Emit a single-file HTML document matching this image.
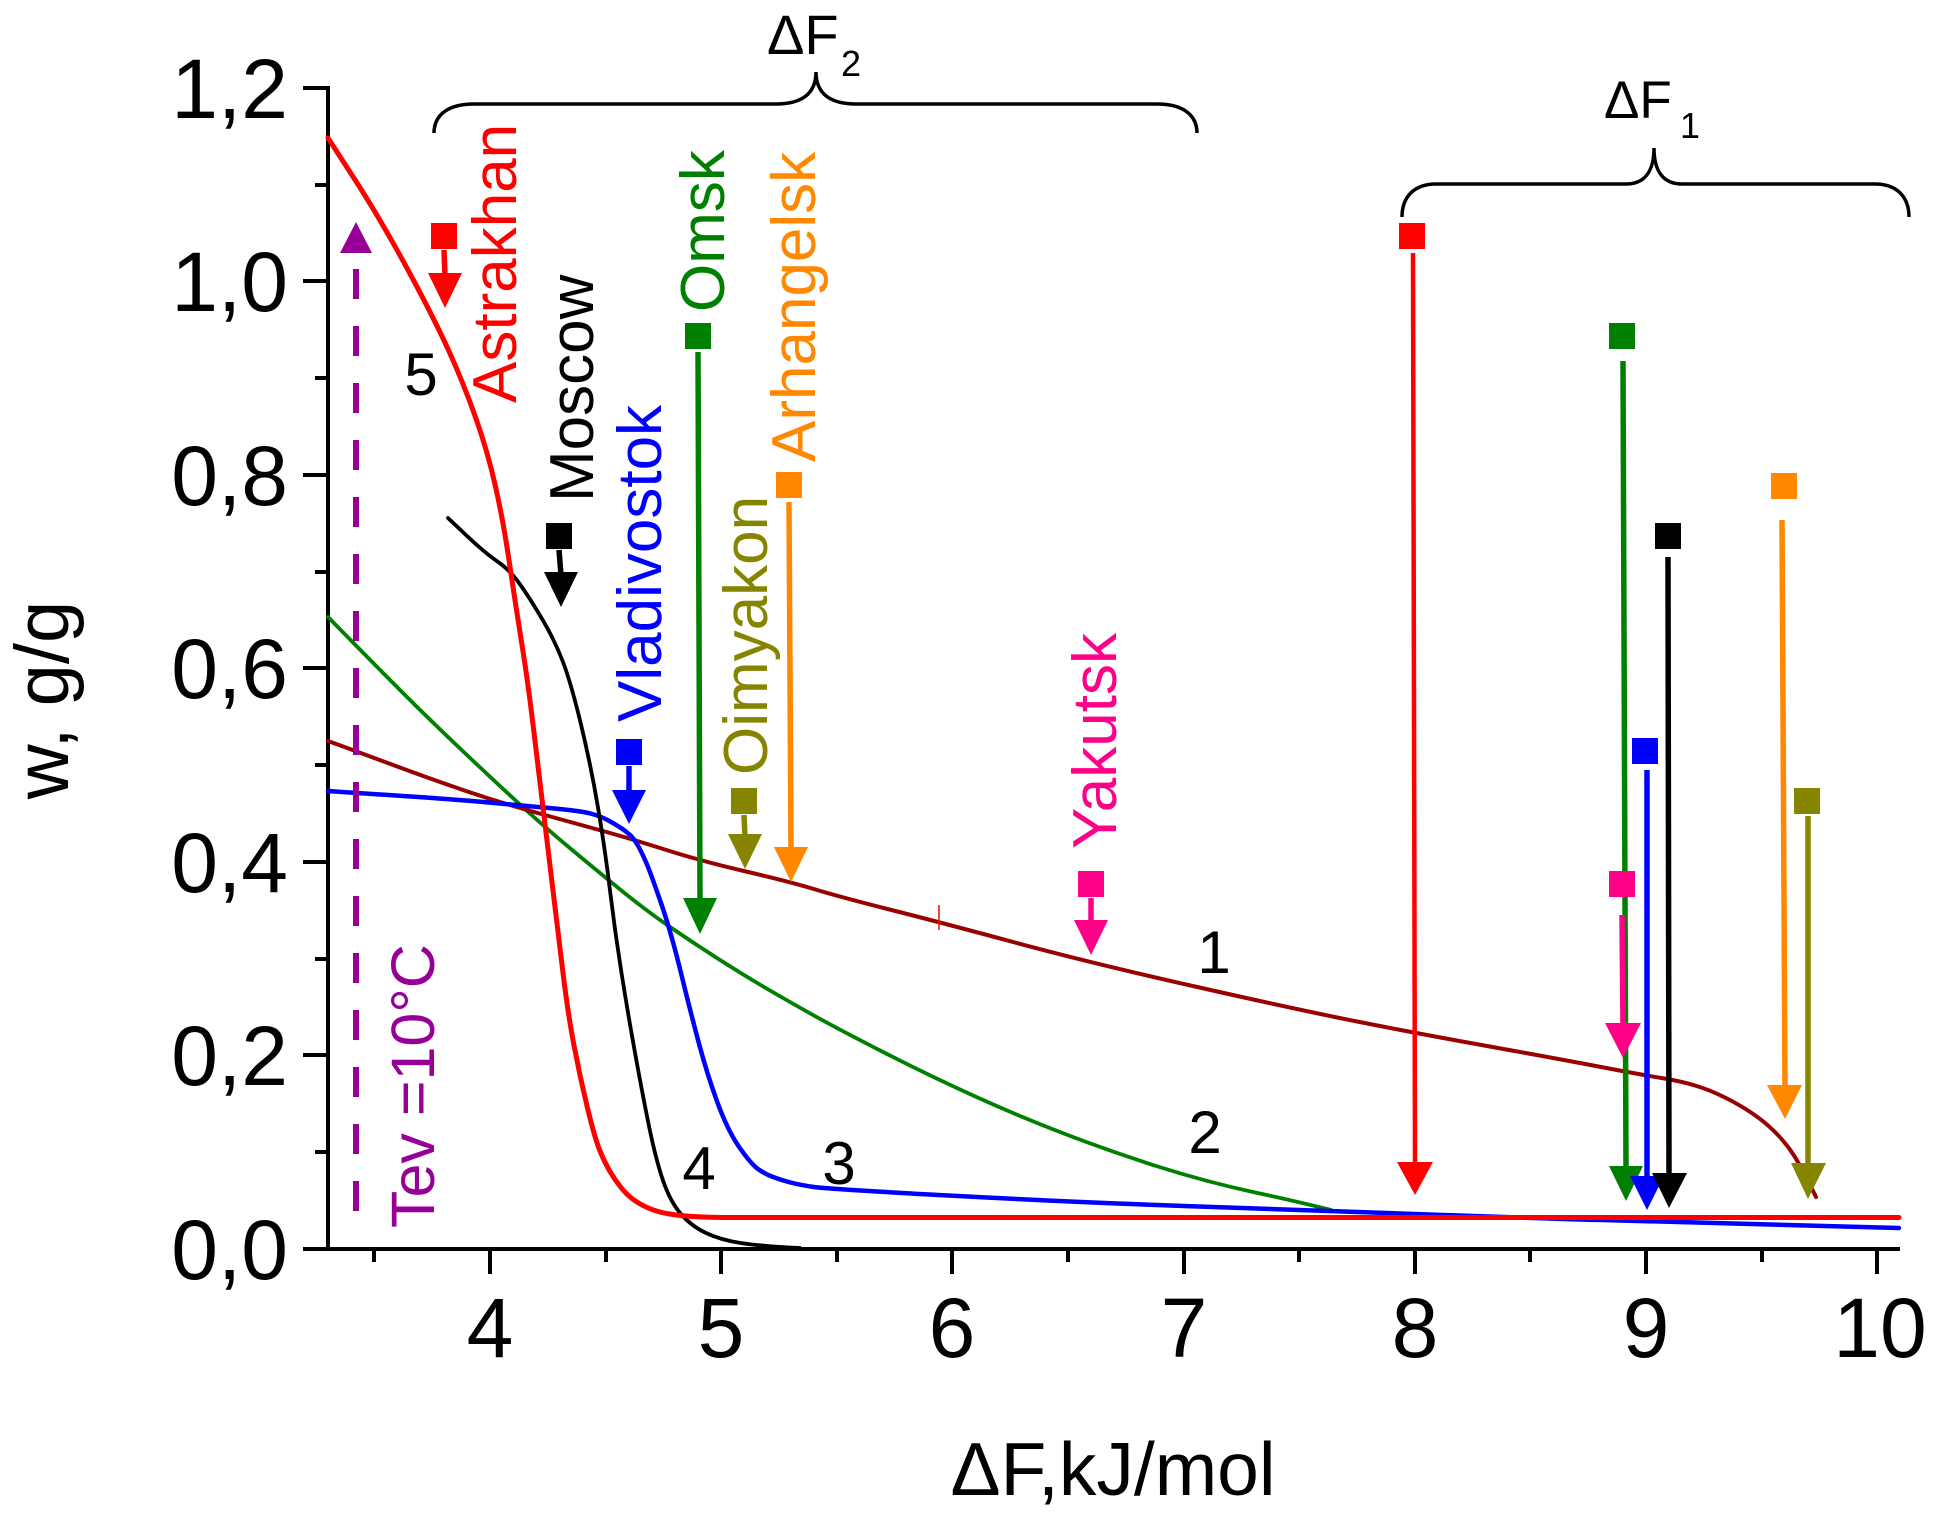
<!DOCTYPE html>
<html>
<head>
<meta charset="utf-8">
<style>
html,body{margin:0;padding:0;background:#fff;}
svg{display:block;}
text{font-family:"Liberation Sans",Arial,sans-serif;}
</style>
</head>
<body>
<svg width="1934" height="1517" viewBox="0 0 1934 1517" xmlns="http://www.w3.org/2000/svg">
<rect width="1934" height="1517" fill="#fff"/>

<!-- axes -->
<g stroke="#000" stroke-width="4" fill="none">
  <line x1="328" y1="86" x2="328" y2="1251"/>
  <line x1="303" y1="1249" x2="1900" y2="1249"/>
  <line x1="303" y1="88" x2="328" y2="88"/>
  <line x1="303" y1="281" x2="328" y2="281"/>
  <line x1="303" y1="475" x2="328" y2="475"/>
  <line x1="303" y1="668" x2="328" y2="668"/>
  <line x1="303" y1="862" x2="328" y2="862"/>
  <line x1="303" y1="1055" x2="328" y2="1055"/>
  <line x1="315" y1="185" x2="328" y2="185"/>
  <line x1="315" y1="378" x2="328" y2="378"/>
  <line x1="315" y1="572" x2="328" y2="572"/>
  <line x1="315" y1="765" x2="328" y2="765"/>
  <line x1="315" y1="959" x2="328" y2="959"/>
  <line x1="315" y1="1152" x2="328" y2="1152"/>
  <line x1="490" y1="1249" x2="490" y2="1274"/>
  <line x1="721" y1="1249" x2="721" y2="1274"/>
  <line x1="952" y1="1249" x2="952" y2="1274"/>
  <line x1="1184" y1="1249" x2="1184" y2="1274"/>
  <line x1="1415" y1="1249" x2="1415" y2="1274"/>
  <line x1="1646" y1="1249" x2="1646" y2="1274"/>
  <line x1="1877" y1="1249" x2="1877" y2="1274"/>
  <line x1="374" y1="1249" x2="374" y2="1262"/>
  <line x1="606" y1="1249" x2="606" y2="1262"/>
  <line x1="837" y1="1249" x2="837" y2="1262"/>
  <line x1="1068" y1="1249" x2="1068" y2="1262"/>
  <line x1="1299" y1="1249" x2="1299" y2="1262"/>
  <line x1="1530" y1="1249" x2="1530" y2="1262"/>
  <line x1="1762" y1="1249" x2="1762" y2="1262"/>
</g>

<!-- tick labels -->
<g font-size="84" fill="#000" text-anchor="end">
  <text x="288" y="118">1,2</text>
  <text x="288" y="311">1,0</text>
  <text x="288" y="505">0,8</text>
  <text x="288" y="698">0,6</text>
  <text x="288" y="892">0,4</text>
  <text x="288" y="1085">0,2</text>
  <text x="288" y="1279">0,0</text>
</g>
<g font-size="84" fill="#000" text-anchor="middle">
  <text x="490" y="1357">4</text>
  <text x="721" y="1357">5</text>
  <text x="952" y="1357">6</text>
  <text x="1184" y="1357">7</text>
  <text x="1415" y="1357">8</text>
  <text x="1646" y="1357">9</text>
  <text x="1880" y="1357">10</text>
</g>

<!-- axis titles -->
<text x="1113" y="1495" font-size="75" text-anchor="middle" fill="#000">ΔF,kJ/mol</text>
<text transform="translate(68,700) rotate(-90)" font-size="76" text-anchor="middle" fill="#000">w, g/g</text>

<!-- braces -->
<g fill="none" stroke="#000" stroke-width="3.5">
  <path d="M434,133 C434,115 448,104 474,104 L776,104 C800,104 816,95 816,72 C816,95 832,104 856,104 L1157,104 C1183,104 1197,115 1197,133"/>
  <path d="M1402,217 C1402,197 1414,184 1436,184 L1626,184 C1644,184 1654,172 1654,148 C1654,172 1664,184 1682,184 L1875,184 C1897,184 1909,197 1909,217"/>
</g>
<text x="767" y="54" font-size="56" fill="#000">ΔF</text>
<text x="841" y="76" font-size="36" fill="#000">2</text>
<text x="1604" y="118" font-size="53" fill="#000">ΔF</text>
<text x="1680" y="138" font-size="36" fill="#000">1</text>

<!-- curves -->
<g fill="none" stroke-linejoin="round" stroke-linecap="round">
  <!-- curve 2 green -->
  <path stroke="#008000" stroke-width="3.8" d="M328,617 L354,643.5 Q380,670 405,695 Q430,720 459,747.5 Q488,775 514.5,799.5 Q541,824 571,849 Q601,874 624.5,893 Q648,912 671.5,928 Q695,944 720,960 Q745,976 770,990.5 Q795,1005 817.5,1017.5 Q840,1030 886,1053.5 Q932,1077 977.5,1097.5 Q1023,1118 1069,1135.5 Q1115,1153 1161,1167.5 Q1207,1182 1253,1192 Q1299,1202 1331,1210"/>
  <!-- curve 1 dark red -->
  <path stroke="#990000" stroke-width="4" d="M328,741 L344.5,747 Q361,753 394.5,765.5 Q428,778 464.5,790.5 Q501,803 539.5,813.5 Q578,824 606.5,832 Q635,840 668,850.5 Q701,861 746,871.5 Q791,882 815.5,889.5 Q840,897 889.5,909.5 Q939,922 1015,942.5 Q1091,963 1195,986.5 Q1299,1010 1357,1021.5 Q1415,1033 1487,1046 Q1559,1059 1601,1067 Q1643,1075 1661.5,1078 Q1680,1081 1695,1085.5 Q1710,1090 1725,1097.5 Q1740,1105 1752.5,1113.5 Q1765,1122 1775,1132 Q1785,1142 1793,1154 Q1801,1166 1816,1197"/>
  <!-- curve 3 blue -->
  <path stroke="#0000ff" stroke-width="4.5" d="M328,791 L342,792 Q356,793 403,796 Q450,799 489,802.5 Q528,806 554.5,808.5 Q581,811 590.5,813.5 Q600,816 607.5,820 Q615,824 621,828 Q627,832 631,836 Q635,840 639,847.5 Q643,855 647,864.5 Q651,874 661,903 Q671,932 681,973 Q691,1014 699.5,1045.5 Q708,1077 718,1104 Q728,1131 739.5,1147.5 Q751,1164 758,1169 Q765,1174 773,1177 Q781,1180 790.5,1182.5 Q800,1185 814,1187 Q828,1189 948.5,1195.5 Q1069,1202 1184,1206 Q1299,1210 1429,1214.5 Q1559,1219 1603,1220 Q1647,1221 1899,1228"/>
  <!-- curve 4 black -->
  <path stroke="#000" stroke-width="3.8" d="M448,518 L466.5,535.5 Q485,553 497.5,561.5 Q510,570 520.5,585 Q531,600 543,620.5 Q555,641 563,662 Q571,683 581,724.5 Q591,766 598,807.5 Q605,849 610,890.5 Q615,932 621.5,973 Q628,1014 635.5,1055.5 Q643,1097 649.5,1128.5 Q656,1160 663,1180.5 Q670,1201 680.5,1213.5 Q691,1226 706,1233 Q721,1240 740.5,1243 Q760,1246 800,1248"/>
  <!-- curve 5 red -->
  <path stroke="#ff0000" stroke-width="5" d="M328,138 L354.5,179 Q381,220 408,270 Q435,320 450,353.5 Q465,387 476.5,420 Q488,453 495.5,486.5 Q503,520 508,553.5 Q513,587 515.5,603.5 Q518,620 523,651.5 Q528,683 533,724.5 Q538,766 543,807.5 Q548,849 553,890.5 Q558,932 563,973 Q568,1014 574,1045.5 Q580,1077 587.5,1108 Q595,1139 600,1151 Q605,1163 610,1171.5 Q615,1180 621,1187.5 Q627,1195 634,1200 Q641,1205 649.5,1208.5 Q658,1212 668,1213.75 Q678,1215.5 689,1216.25 Q700,1217 710,1217.25 Q720,1217.5 740,1217.5 L1899,1217.5"/>
</g>
<line x1="939" y1="905" x2="939" y2="930" stroke="#ff0000" stroke-width="1.5"/>

<!-- curve numbers -->
<g font-size="60" fill="#000" text-anchor="middle">
  <text x="421" y="395">5</text>
  <text x="699" y="1189">4</text>
  <text x="839" y="1184">3</text>
  <text x="1205" y="1153">2</text>
  <text x="1214" y="973">1</text>
</g>

<!-- Tev dashed line + arrow -->
<line x1="356" y1="1211" x2="356" y2="252" stroke="#970097" stroke-width="6" stroke-dasharray="30 27"/>
<polygon points="340,253 372,253 356,222" fill="#970097"/>
<text transform="translate(434,1228) rotate(-90)" font-size="61" fill="#970097">Tev =10°C</text>

<!-- city labels -->
<g font-size="62">
  <text transform="translate(516,403) rotate(-90)" fill="#ff0000">Astrakhan</text>
  <text transform="translate(593,502) rotate(-90)" fill="#000">Moscow</text>
  <text transform="translate(661,722) rotate(-90)" fill="#0000ff">Vladivostok</text>
  <text transform="translate(724,312) rotate(-90)" fill="#008000">Omsk</text>
  <text transform="translate(767,775) rotate(-90)" fill="#858500">Oimyakon</text>
  <text transform="translate(815,462) rotate(-90)" fill="#ff8800">Arhangelsk</text>
  <text transform="translate(1116,849) rotate(-90)" fill="#ff0088">Yakutsk</text>
</g>

<!-- arrows -->
<g stroke-width="5.5">
  <rect x="431" y="223" width="26" height="26" fill="#ff0000"/>
  <line x1="444" y1="250" x2="445" y2="276" stroke="#ff0000"/>
  <polygon points="428,273 462,273 445,308" fill="#ff0000"/>

  <rect x="546" y="523" width="26" height="26" fill="#000"/>
  <line x1="559" y1="550" x2="561" y2="575" stroke="#000"/>
  <polygon points="544,572 578,572 561,607" fill="#000"/>

  <rect x="616" y="739" width="26" height="26" fill="#0000ff"/>
  <line x1="629" y1="766" x2="629" y2="793" stroke="#0000ff"/>
  <polygon points="612,790 646,790 629,824" fill="#0000ff"/>

  <rect x="685" y="323" width="26" height="26" fill="#008000"/>
  <line x1="698" y1="352" x2="700" y2="901" stroke="#008000"/>
  <polygon points="683,898 717,898 700,934" fill="#008000"/>

  <rect x="731" y="788" width="26" height="26" fill="#858500"/>
  <line x1="744" y1="815" x2="745" y2="837" stroke="#858500"/>
  <polygon points="728,834 762,834 745,869" fill="#858500"/>

  <rect x="776" y="472" width="26" height="26" fill="#ff8800"/>
  <line x1="789" y1="502" x2="791" y2="850" stroke="#ff8800"/>
  <polygon points="774,847 808,847 791,882" fill="#ff8800"/>

  <rect x="1078" y="871" width="26" height="26" fill="#ff0088"/>
  <line x1="1091" y1="898" x2="1091" y2="923" stroke="#ff0088"/>
  <polygon points="1074,920 1108,920 1091,955" fill="#ff0088"/>

  <rect x="1399" y="223" width="26" height="26" fill="#ff0000"/>
  <line x1="1413" y1="253" x2="1415" y2="1165" stroke="#ff0000" stroke-width="4.5"/>
  <polygon points="1397,1162 1433,1162 1415,1195" fill="#ff0000"/>

  <rect x="1609" y="323" width="26" height="26" fill="#008000"/>
  <line x1="1623" y1="361" x2="1626" y2="1169" stroke="#008000"/>
  <polygon points="1609,1166 1643,1166 1626,1201" fill="#008000"/>

  <rect x="1609" y="871" width="26" height="26" fill="#ff0088"/>
  <line x1="1622" y1="915" x2="1623" y2="1026" stroke="#ff0088"/>
  <polygon points="1605,1023 1641,1023 1623,1058" fill="#ff0088"/>

  <rect x="1632" y="738" width="26" height="26" fill="#0000ff"/>
  <line x1="1647" y1="770" x2="1647" y2="1179" stroke="#0000ff"/>
  <polygon points="1630,1176 1664,1176 1647,1210" fill="#0000ff"/>

  <rect x="1655" y="523" width="26" height="26" fill="#000"/>
  <line x1="1668" y1="557" x2="1669" y2="1176" stroke="#000"/>
  <polygon points="1652,1173 1687,1173 1669,1208" fill="#000"/>

  <rect x="1771" y="473" width="26" height="26" fill="#ff8800"/>
  <line x1="1782" y1="520" x2="1785" y2="1088" stroke="#ff8800"/>
  <polygon points="1767,1085 1802,1085 1785,1119" fill="#ff8800"/>

  <rect x="1794" y="788" width="26" height="26" fill="#858500"/>
  <line x1="1808" y1="816" x2="1808" y2="1166" stroke="#858500"/>
  <polygon points="1791,1163 1826,1163 1808,1199" fill="#858500"/>
</g>
</svg>
</body>
</html>
